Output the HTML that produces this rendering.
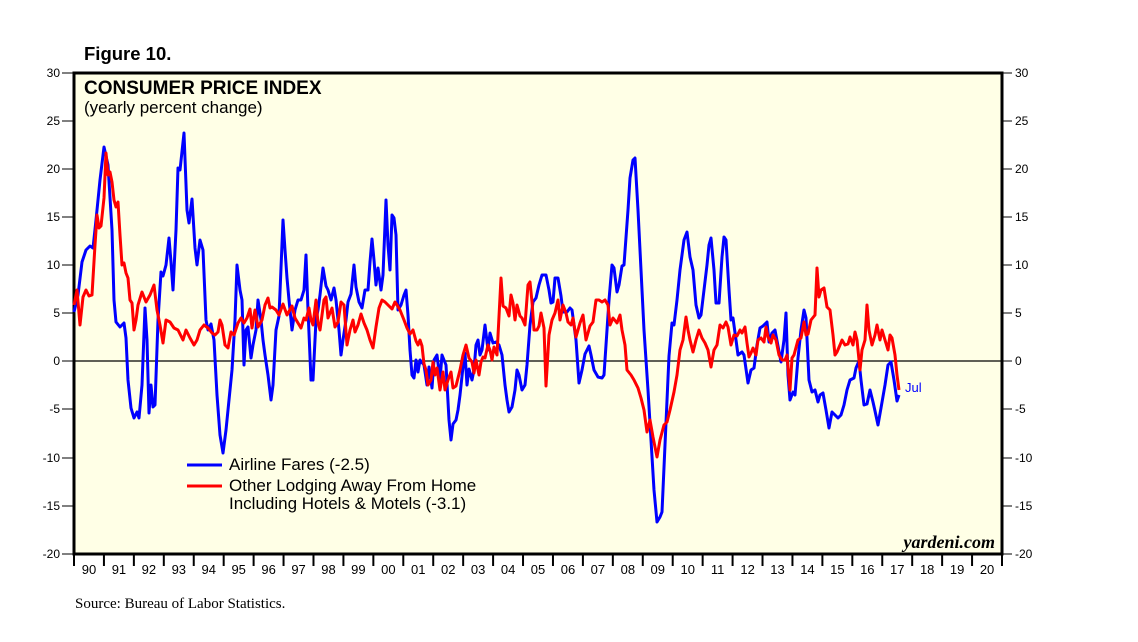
<!DOCTYPE html>
<html><head><meta charset="utf-8"><style>
body{margin:0;background:#fff;}
svg text{font-family:"Liberation Sans",sans-serif;}
</style></head><body>
<svg width="1138" height="637" xmlns="http://www.w3.org/2000/svg">
<rect x="74" y="73" width="928" height="481" fill="#ffffe6"/>
<line x1="74" y1="361" x2="1002" y2="361" stroke="#000" stroke-width="1.2"/>
<g stroke="#000" stroke-width="1">
<line x1="62" y1="73" x2="74" y2="73"/><line x1="62" y1="121" x2="74" y2="121"/><line x1="62" y1="169" x2="74" y2="169"/><line x1="62" y1="217" x2="74" y2="217"/><line x1="62" y1="265" x2="74" y2="265"/><line x1="62" y1="313" x2="74" y2="313"/><line x1="62" y1="361" x2="74" y2="361"/><line x1="62" y1="409" x2="74" y2="409"/><line x1="62" y1="458" x2="74" y2="458"/><line x1="62" y1="506" x2="74" y2="506"/><line x1="62" y1="554" x2="74" y2="554"/>
<line x1="1002" y1="73" x2="1012" y2="73"/><line x1="1002" y1="121" x2="1012" y2="121"/><line x1="1002" y1="169" x2="1012" y2="169"/><line x1="1002" y1="217" x2="1012" y2="217"/><line x1="1002" y1="265" x2="1012" y2="265"/><line x1="1002" y1="313" x2="1012" y2="313"/><line x1="1002" y1="361" x2="1012" y2="361"/><line x1="1002" y1="409" x2="1012" y2="409"/><line x1="1002" y1="458" x2="1012" y2="458"/><line x1="1002" y1="506" x2="1012" y2="506"/><line x1="1002" y1="554" x2="1012" y2="554"/>
</g>
<g font-size="12" text-anchor="end">
<text x="60" y="77">30</text><text x="60" y="125">25</text><text x="60" y="173">20</text><text x="60" y="221">15</text><text x="60" y="269">10</text><text x="60" y="317">5</text><text x="60" y="365">0</text><text x="60" y="413">-5</text><text x="60" y="462">-10</text><text x="60" y="510">-15</text><text x="60" y="558">-20</text>
</g>
<g font-size="12">
<text x="1015" y="77">30</text><text x="1015" y="125">25</text><text x="1015" y="173">20</text><text x="1015" y="221">15</text><text x="1015" y="269">10</text><text x="1015" y="317">5</text><text x="1015" y="365">0</text><text x="1015" y="413">-5</text><text x="1015" y="462">-10</text><text x="1015" y="510">-15</text><text x="1015" y="558">-20</text>
</g>
<g id="xt" stroke="#000" stroke-width="2"></g>
<g id="xl" font-size="13" text-anchor="middle" font-family="Liberation Serif,serif"></g>
<rect x="74" y="73" width="928" height="481" fill="none" stroke="#000" stroke-width="3"/>
<text x="84" y="60" font-size="18.5" font-weight="bold">Figure 10.</text>
<text x="84" y="94" font-size="19" font-weight="bold">CONSUMER PRICE INDEX</text>
<text x="84" y="113" font-size="17">(yearly percent change)</text>
<polyline fill="none" stroke="#00f" stroke-width="3" stroke-linejoin="round" points="74,312 78,295 82,262 86,250 90,246 93,248 96,220 100,180 104,147 108,165 112,230 114,300 116,322 120,327 124,323 126,338 128,380 131,408 134,418 137,412 139,418 142,385 145,308 147,340 149,413 151,385 153,407 155,405 158,320 161,272 163,276 166,265 169,238 171,262 173,290 176,230 178,168 180,170 184,133 187,210 189,223 192,199 195,248 197,265 200,240 203,250 206,320 208,330 211,324 214,340 217,395 220,435 223,453 226,430 228,410 232,370 235,320 237,265 240,290 242,300 244,365 246,330 248,327 251,358 253,345 256,330 258,300 261,320 263,340 265,355 268,375 271,400 273,385 276,330 279,316 283,220 285,250 287,278 289,300 292,330 295,310 298,300 301,300 304,290 306,255 308,310 311,380 313,380 316,320 318,310 320,295 323,268 326,286 328,290 331,300 334,288 336,300 339,330 341,355 343,340 346,320 348,302 351,294 354,265 356,287 359,302 362,308 365,290 368,290 370,262 372,239 374,260 376,285 378,268 381,290 383,275 386,200 388,245 390,270 392,215 394,218 396,235 398,310 401,305 404,295 406,290 408,315 410,350 412,375 414,378 416,360 418,372 420,360 424,365 427,385 429,367 432,388 434,360 437,355 440,380 442,355 446,365 449,420 451,440 453,424 456,420 458,410 460,395 463,367 465,353 467,385 469,369 472,380 474,370 476,345 478,340 480,355 482,350 485,325 488,350 490,333 493,343 496,342 499,345 502,355 505,385 507,400 509,412 512,407 515,390 517,370 519,375 522,390 525,385 527,365 530,325 533,302 536,298 539,285 542,275 546,275 549,290 551,303 553,302 555,278 558,278 561,296 563,312 567,312 570,308 572,310 576,340 579,383 582,370 585,354 589,346 591,355 594,370 598,377 602,378 604,375 609,300 612,265 614,268 617,292 619,285 622,266 624,265 628,210 630,178 633,160 635,158 638,210 641,270 644,330 648,390 651,440 654,490 657,522 660,517 662,512 665,445 669,356 672,323 674,325 677,300 680,270 684,240 687,232 690,257 693,270 696,305 699,318 701,315 704,290 707,265 709,245 711,238 714,270 716,303 719,303 722,257 724,237 726,240 729,290 731,320 733,318 736,340 738,355 742,352 744,355 748,383 751,370 754,368 757,345 760,328 763,326 767,322 769,342 772,333 775,330 778,346 781,362 784,340 786,313 788,375 790,400 793,392 795,395 798,358 801,330 804,310 806,318 809,380 812,392 815,390 818,402 820,395 823,393 826,410 829,428 832,412 835,415 838,418 841,415 844,405 847,390 850,380 854,378 856,368 859,361 861,380 864,405 867,404 870,390 873,402 875,411 878,425 881,408 885,385 888,365 891,362 894,380 897,401 899,395"/>
<polyline fill="none" stroke="#f00" stroke-width="3" stroke-linejoin="round" points="74,305 77,290 80,325 83,297 86,290 89,296 92,295 95,245 97,215 99,228 101,226 104,198 106,153 108,175 110,172 112,182 114,200 116,207 118,202 120,235 122,265 124,263 126,273 128,278 130,300 132,303 134,330 136,320 138,305 142,292 146,302 150,295 154,285 157,310 160,325 163,343 166,320 170,322 174,328 178,330 183,340 186,330 190,338 194,345 197,340 200,330 204,325 208,328 212,333 215,335 218,332 220,320 222,325 225,345 228,348 231,332 234,335 238,323 241,318 244,323 247,318 250,309 252,328 255,310 258,327 262,320 265,305 268,298 270,308 272,307 276,310 279,315 283,304 287,315 292,306 295,318 298,323 301,328 304,318 306,320 309,308 311,320 313,325 316,300 318,323 320,330 324,300 326,297 328,318 332,308 335,327 338,322 341,302 344,305 347,345 350,330 353,320 355,332 358,325 361,314 364,323 367,330 370,340 373,348 376,327 379,308 382,300 385,302 389,306 392,309 395,302 397,305 400,310 404,320 407,328 410,334 413,330 416,341 418,345 420,340 422,346 424,364 426,370 428,385 431,380 433,362 435,375 437,368 440,390 443,372 445,390 448,380 451,372 453,388 456,386 460,370 463,355 466,345 469,358 472,362 474,373 476,360 479,375 481,362 483,357 485,358 488,345 490,350 492,360 494,347 497,355 501,278 503,306 506,308 509,316 511,295 513,303 515,320 517,305 520,316 522,318 525,325 528,285 530,282 532,302 534,330 537,330 539,326 541,313 544,328 546,386 549,335 552,320 555,313 558,300 560,320 563,305 566,313 568,322 571,325 573,318 576,337 580,323 583,315 586,340 590,326 593,322 596,300 599,300 602,302 605,300 608,305 610,325 613,318 617,323 620,315 622,330 625,345 627,370 631,375 634,380 638,388 641,398 644,410 647,432 650,420 653,437 657,457 660,440 664,425 667,422 670,410 674,392 677,375 680,350 683,340 686,317 688,330 690,340 693,352 696,340 699,330 702,338 705,343 708,350 711,367 714,350 717,345 720,325 723,328 726,322 728,327 731,345 734,335 737,336 740,330 742,333 745,327 747,343 749,357 751,353 753,348 756,355 758,340 761,338 764,342 766,327 768,337 771,343 773,335 776,340 779,355 782,360 785,360 787,355 790,390 792,358 794,355 798,340 801,338 804,322 806,335 808,334 811,320 815,315 817,268 819,297 821,290 824,288 827,307 830,310 833,335 835,355 837,352 840,345 842,340 845,345 848,344 850,337 853,345 855,332 857,340 860,370 862,350 865,340 867,305 869,330 872,345 875,335 877,325 880,340 882,330 885,340 888,350 890,335 892,338 895,355 897,375 899,390"/>
<text x="905" y="392" font-size="13" fill="#00f">Jul</text>
<line x1="187" y1="465" x2="222" y2="465" stroke="#00f" stroke-width="3"/>
<text x="229" y="470" font-size="17">Airline Fares (-2.5)</text>
<line x1="187" y1="486" x2="222" y2="486" stroke="#f00" stroke-width="3"/>
<text x="229" y="491" font-size="17">Other Lodging Away From Home</text>
<text x="229" y="509" font-size="17">Including Hotels &amp; Motels (-3.1)</text>
<text x="995" y="548" font-size="18" font-weight="bold" font-style="italic" text-anchor="end" style="font-family:'Liberation Serif',serif">yardeni.com</text>
<text x="75" y="608" font-size="15" style="font-family:'Liberation Serif',serif">Source: Bureau of Labor Statistics.</text>
<script>
var t=document.getElementById('xt'),l=document.getElementById('xl'),ns='http://www.w3.org/2000/svg';
for(var i=0;i<=31;i++){var x=74+i*928/31;var ln=document.createElementNS(ns,'line');ln.setAttribute('x1',x);ln.setAttribute('x2',x);ln.setAttribute('y1',554);ln.setAttribute('y2',566);t.appendChild(ln);
if(i<31){var tx=document.createElementNS(ns,'text');tx.setAttribute('x',x+15);tx.setAttribute('y',574);var y=(90+i)%100;tx.textContent=(y<10?'0':'')+y;l.appendChild(tx);}}
</script>
</svg>
</body></html>
